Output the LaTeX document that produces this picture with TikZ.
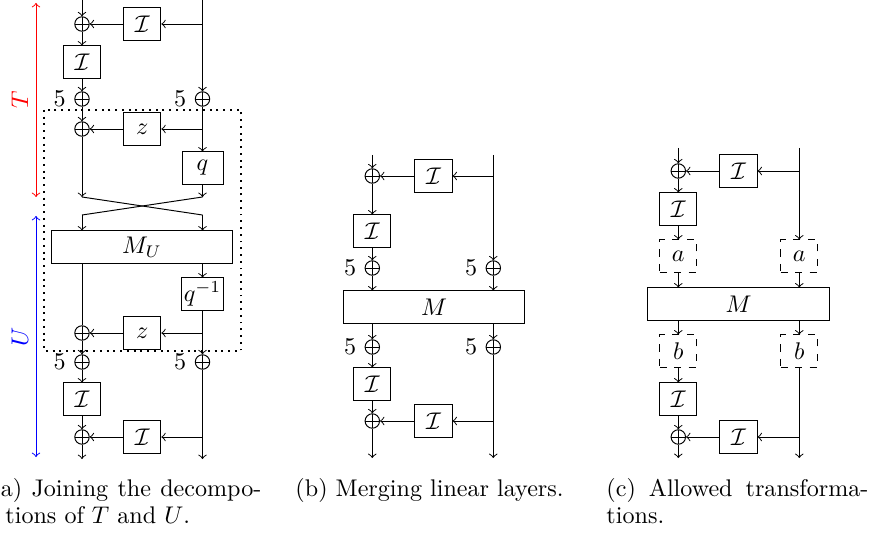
\documentclass[tikz,border=0pt]{standalone}
\begin{document}
\begin{tikzpicture}[x=0.415pt,y=-0.415pt,>=to,
  box/.style={draw, minimum width=15.4pt, minimum height=13.3pt, inner sep=1pt},
  qbox/.style={box, minimum width=17pt},
  wbox/.style={box, minimum width=75.5pt},
  dbox/.style={box, dashed},
  xor/.style={circle, draw, minimum size=6pt, inner sep=0pt,
    path picture={\draw (path picture bounding box.north) -- (path picture bounding box.south)
      (path picture bounding box.west) -- (path picture bounding box.east);}},
  five/.style={label={left:$5$}},
  captext/.style={anchor=base west, inner sep=0pt}]
\useasboundingbox (0,0) rectangle (878,538);

% ---------------- panel (a) ----------------
\coordinate (aLt) at (82,-2);
\coordinate (aRt) at (202.5,-2);
\node[xor] (ax1) at (82,24) {};
\node[box] (ai1) at (142.3,24) {$\mathcal{I}$};
\coordinate (aRb1) at (202.5,24);
\node[box] (ai2) at (82,62) {$\mathcal{I}$};
\node[xor,five] (ax2L) at (82,99) {};
\node[xor,five] (ax2R) at (202.5,99) {};
\node[xor] (ax3) at (82,129) {};
\node[box] (az1) at (142.3,129) {$z$};
\coordinate (aRb2) at (202.5,129);
\node[qbox] (aq) at (202.5,168) {$q$};
\coordinate (aC1L) at (82,197);
\coordinate (aC1R) at (202.5,197);
\coordinate (aC2L) at (82,215);
\coordinate (aC2R) at (202.5,215);
\node[wbox] (aMU) at (142,247) {$M_U$};
\node[qbox] (aqi) at (202.5,294) {$q^{-1}$};
\node[xor] (ax4) at (82,333) {};
\node[box] (az2) at (142.3,333) {$z$};
\coordinate (aRb3) at (202.5,333);
\node[xor,five] (ax5L) at (82,362) {};
\node[xor,five] (ax5R) at (202.5,362) {};
\node[box] (ai3) at (82,399) {$\mathcal{I}$};
\node[xor] (ax6) at (82,437) {};
\node[box] (ai4) at (142.3,437) {$\mathcal{I}$};
\coordinate (aRb4) at (202.5,437);
\coordinate (aLb) at (82,459);
\coordinate (aRb) at (202.5,459);

\draw[->] (aLt) -- (ax1);
\draw[->] (aRt) -- (ax2R);
\draw[->] (aRb1) -- (ai1);
\draw[->] (ai1) -- (ax1);
\draw[->] (ax1) -- (ai2);
\draw[->] (ai2) -- (ax2L);
\draw[->] (ax2L) -- (ax3);
\draw[->] (ax2R) -- (aq);
\draw[->] (aRb2) -- (az1);
\draw[->] (az1) -- (ax3);
\draw[->] (ax3) -- (aC1L);
\draw[->] (aq) -- (aC1R);
\draw (aC1L) -- (aC2R);
\draw (aC1R) -- (aC2L);
\draw[->] (aC2L) -- (aC2L |- aMU.north);
\draw[->] (aC2R) -- (aC2R |- aMU.north);
\draw (aMU.south -| ax4) -- (ax4);
\draw[->] (aMU.south -| aqi) -- (aqi);
\draw[->] (aqi) -- (ax5R);
\draw[->] (aRb3) -- (az2);
\draw[->] (az2) -- (ax4);
\draw[->] (ax4) -- (ax5L);
\draw[->] (ax5L) -- (ai3);
\draw[->] (ai3) -- (ax6);
\draw[->] (ax6) -- (aLb);
\draw[->] (ax5R) -- (aRb);
\draw[->] (aRb4) -- (ai4);
\draw[->] (ai4) -- (ax6);

\draw[thick,dotted] (44,110) rectangle (241,351);

\coordinate (aT1) at (36,3);
\coordinate (aT2) at (36,197);
\draw[red,<->] (aT1) -- (aT2);
\node[red,rotate=90] (aTl) at (20,100) {$T$};
\coordinate (aU1) at (36,216);
\coordinate (aU2) at (36,457);
\draw[blue,<->] (aU1) -- (aU2);
\node[blue,rotate=90] (aUl) at (20,337) {$U$};

% ---------------- panel (b) ----------------
\coordinate (bLt) at (372.3,155);
\coordinate (bRt) at (493.3,155);
\node[xor] (bx1) at (372.3,176) {};
\node[box] (bi1) at (433.5,176) {$\mathcal{I}$};
\coordinate (bRb1) at (493.3,176);
\node[box] (bi2) at (372.3,231) {$\mathcal{I}$};
\node[xor,five] (bx2L) at (372.3,268) {};
\node[xor,five] (bx2R) at (493.3,268) {};
\node[wbox] (bM) at (434,307) {$M$};
\node[xor,five] (bx3L) at (372.3,347) {};
\node[xor,five] (bx3R) at (493.3,347) {};
\node[box] (bi3) at (372.3,384) {$\mathcal{I}$};
\node[xor] (bx4) at (372.3,421) {};
\node[box] (bi4) at (433.5,421) {$\mathcal{I}$};
\coordinate (bRb2) at (493.3,421);
\coordinate (bLb) at (372.3,458);
\coordinate (bRb) at (493.3,458);

\draw[->] (bLt) -- (bx1);
\draw[->] (bRt) -- (bx2R);
\draw[->] (bRb1) -- (bi1);
\draw[->] (bi1) -- (bx1);
\draw[->] (bx1) -- (bi2);
\draw[->] (bi2) -- (bx2L);
\draw[->] (bx2L) -- (bx2L |- bM.north);
\draw[->] (bx2R) -- (bx2R |- bM.north);
\draw[->] (bM.south -| bx3L) -- (bx3L);
\draw[->] (bM.south -| bx3R) -- (bx3R);
\draw[->] (bx3L) -- (bi3);
\draw[->] (bi3) -- (bx4);
\draw[->] (bx4) -- (bLb);
\draw[->] (bx3R) -- (bRb);
\draw[->] (bRb2) -- (bi4);
\draw[->] (bi4) -- (bx4);

% ---------------- panel (c) ----------------
\coordinate (cLt) at (678.3,148);
\coordinate (cRt) at (799.3,148);
\node[xor] (cx1) at (678.3,171) {};
\node[box] (ci1) at (738.5,171) {$\mathcal{I}$};
\coordinate (cRb1) at (799.3,171);
\node[box] (ci2) at (678.3,209) {$\mathcal{I}$};
\node[dbox] (ca1) at (678.3,256) {$a$};
\node[dbox] (ca2) at (799.3,256) {$a$};
\node[wbox] (cM) at (738.5,304) {$M$};
\node[dbox] (cb1) at (678.3,351) {$b$};
\node[dbox] (cb2) at (799.3,351) {$b$};
\node[box] (ci3) at (678.3,399) {$\mathcal{I}$};
\node[xor] (cx2) at (678.3,437) {};
\node[box] (ci4) at (738.5,437) {$\mathcal{I}$};
\coordinate (cRb2) at (799.3,437);
\coordinate (cLb) at (678.3,458);
\coordinate (cRb) at (799.3,458);

\draw[->] (cLt) -- (cx1);
\draw[->] (cRt) -- (ca2);
\draw[->] (cRb1) -- (ci1);
\draw[->] (ci1) -- (cx1);
\draw[->] (cx1) -- (ci2);
\draw[->] (ci2) -- (ca1);
\draw[->] (ca1) -- (ca1 |- cM.north);
\draw[->] (ca2) -- (ca2 |- cM.north);
\draw[->] (cM.south -| cb1) -- (cb1);
\draw[->] (cM.south -| cb2) -- (cb2);
\draw[->] (cb1) -- (ci3);
\draw[->] (ci3) -- (cx2);
\draw[->] (cx2) -- (cLb);
\draw[->] (cb2) -- (cRb);
\draw[->] (cRb2) -- (ci4);
\draw[->] (ci4) -- (cx2);

% ---------------- captions ----------------
\node[captext] (capa1) at (-9,496) {\makebox[112pt][s]{(a) Joining the decompo-}};
\node[captext] (capa2) at (5,523) {tions of $T$ and $U$.};
\node[captext] (capb) at (295,496) {(b) Merging linear layers.};
\node[captext] (capc1) at (606,496) {\makebox[108.7pt][s]{(c) Allowed transforma-}};
\node[captext] (capc2) at (606,523) {tions.};
\end{tikzpicture}
\end{document}
